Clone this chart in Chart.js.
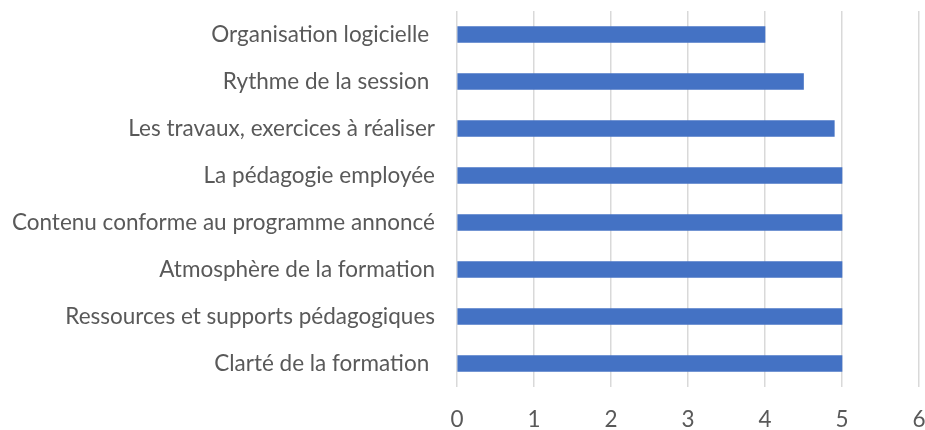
<!DOCTYPE html>
<html>
<head>
<meta charset="utf-8">
<script src="https://cdn.jsdelivr.net/npm/chart.js@4"></script>
<style>
  html, body { margin: 0; padding: 0; background: #fff; }
  #wrap { width: 925px; height: 430px; }
</style>
</head>
<body>
<div id="wrap"><canvas id="evalChart" width="925" height="430"></canvas></div>
<script>
// Chart values
const categories = [
    'Organisation logicielle ',
    'Rythme de la session ',
    'Les travaux, exercices à réaliser',
    'La pédagogie employée',
    'Contenu conforme au programme annoncé',
    'Atmosphère de la formation',
    'Ressources et supports pédagogiques',
    'Clarté de la formation ',
];
const scores = [4, 4.5, 4.9, 5, 5, 5, 5, 5];
const xTicks = [0, 1, 2, 3, 4, 5, 6];

const fontFamily = 'Lato, "Open Sans", sans-serif';
const textColor = '#595959';
const gridColor = '#d9d9d9';

const ctx = document.getElementById('evalChart').getContext('2d');

// Drop the extra room Chart.js keeps for label overhang, so the plot area
// sits where the reference has it
function noOverhang(scale) {
    scale.paddingTop = 0;
    scale.paddingBottom = 0;
    scale.paddingLeft = 0;
    scale.paddingRight = 0;
}

new Chart(ctx, {
    type: 'bar',
    data: {
        labels: categories,
        datasets: [{
            data: scores,
            backgroundColor: '#4472C4',
            borderWidth: 0,
            barThickness: 16,
        }],
    },
    options: {
        indexAxis: 'y',
        responsive: false,
        animation: false,
        layout: {
            padding: { top: 11, right: 6, left: 0, bottom: 0 },
        },
        plugins: {
            legend: { display: false },
            tooltip: { enabled: false },
        },
        scales: {
            x: {
                min: xTicks[0],
                max: xTicks[xTicks.length - 1],
                afterBuildTicks: (scale) => {
                    scale.ticks = xTicks.map((v) => ({ value: v }));
                },
                afterFit: (scale) => {
                    scale.height = 43;
                    noOverhang(scale);
                },
                grid: {
                    color: gridColor,
                    lineWidth: 1.5,
                    drawTicks: false,
                },
                border: { display: false },
                ticks: {
                    color: textColor,
                    padding: 19,
                    font: { family: fontFamily, size: 22.5 },
                },
            },
            y: {
                afterFit: (scale) => {
                    scale.width = 457;
                    noOverhang(scale);
                },
                grid: { display: false, drawTicks: false },
                border: { display: false },
                ticks: {
                    color: textColor,
                    padding: 22,
                    font: { family: fontFamily, size: 22.5 },
                },
            },
        },
    },
});
</script>
</body>
</html>
